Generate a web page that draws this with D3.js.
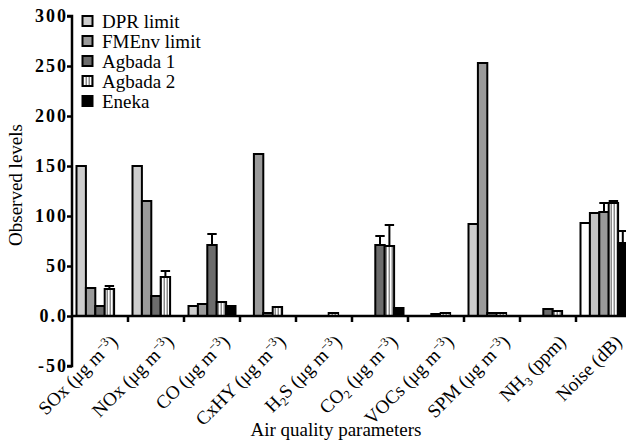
<!DOCTYPE html>
<html>
<head>
<meta charset="utf-8">
<script src="https://cdn.jsdelivr.net/npm/d3@7"></script>
<style>
  html, body { margin: 0; padding: 0; background: #fff; }
  svg { display: block; }
</style>
</head>
<body>
<svg id="chart" width="626" height="440"></svg>
<script>
// ---- data ----
const categories = ["SOx", "NOx", "CO", "CxHY", "H2S", "CO2", "VOCs", "SPM", "NH3", "Noise"];
const categoryLabels = [
  "SOx (μg m^{−3})", "NOx (μg m^{−3})", "CO (μg m^{−3})", "CxHY (μg m^{−3})",
  "H_{2}S (μg m^{−3})", "CO_{2} (μg m^{−3})", "VOCs (μg m^{−3})", "SPM (μg m^{−3})",
  "NH_{3} (ppm)", "Noise (dB)"
];
const seriesNames = ["DPR limit", "FMEnv limit", "Agbada 1", "Agbada 2", "Eneka"];
const dprLimit   = [150, 150, 10, 0, 0, 0, 0, 92, 0, 93];
const fmenvLimit = [28, 115, 12, 162, 0, 0, 0, 253, 0, 103];
const agbada1    = [10, 20, 71, 3, 0, 71, 2, 3, 7, 104];
const agbada2    = [27, 39, 14, 9, 3, 70, 3, 3, 5, 113];
const eneka      = [0, 0, 10, 0, 0, 8, 0, 0, 0, 73];
const agbada1Err = [0, 0, 11, 0, 0, 9, 0, 0, 0, 9];
const agbada2Err = [3, 6, 0, 0, 0, 21, 0, 0, 0, 2];
const enekaErr   = [0, 0, 0, 0, 0, 0, 0, 0, 0, 12];
const yTicks = [-50, 0, 50, 100, 150, 200, 250, 300];

// ---- styles ----
const FONT = '"Liberation Serif", "Times New Roman", Times, serif';
const fills = ["#cdcdcd", "#9a9a9a", "#6c6c6c", "url(#stripes)", "#000"];
const noiseFills = ["#ffffff", "#c4c4c4", "#999999", "url(#stripes)", "#000"];

const values = [dprLimit, fmenvLimit, agbada1, agbada2, eneka];
const errors = [null, null, agbada1Err, agbada2Err, enekaErr];

const svg = d3.select("#chart");
const defs = svg.append("defs");
const pat = defs.append("pattern").attr("id", "stripes")
  .attr("patternUnits", "userSpaceOnUse").attr("width", 3).attr("height", 4);
pat.append("rect").attr("width", 3).attr("height", 4).attr("fill", "#ffffff");
pat.append("rect").attr("x", 1.5).attr("width", 1.5).attr("height", 4).attr("fill", "#8a8a8a");

const x = d3.scaleBand().domain(categories).range([72, 632]);
const xs = d3.scaleBand().domain(seriesNames).range([4.5, x.bandwidth() - 4.5]);
const y = d3.scaleLinear().domain([-50, 300]).range([366, 16]);

// bars
const barData = [];
categories.forEach((c, ci) => {
  seriesNames.forEach((s, si) => {
    barData.push({ c, ci, s, si, v: values[si][ci], e: errors[si] ? errors[si][ci] : 0 });
  });
});

const bars = svg.append("g");
bars.selectAll("g.err").data(barData.filter(d => d.e > 0)).join("g").attr("class", "err")
  .each(function(d) {
    const g = d3.select(this);
    const cx = x(d.c) + xs(d.s) + xs.bandwidth() / 2;
    g.append("line").attr("x1", cx).attr("x2", cx)
      .attr("y1", y(d.v)).attr("y2", y(d.v + d.e))
      .attr("stroke", "#000").attr("stroke-width", 2);
    g.append("line").attr("x1", cx - xs.bandwidth() / 2).attr("x2", cx + xs.bandwidth() / 2)
      .attr("y1", y(d.v + d.e)).attr("y2", y(d.v + d.e))
      .attr("stroke", "#000").attr("stroke-width", 2);
  });

bars.selectAll("rect.bar").data(barData.filter(d => d.v !== 0)).join("rect").attr("class", "bar")
  .attr("x", d => x(d.c) + xs(d.s))
  .attr("width", xs.bandwidth())
  .attr("y", d => Math.min(y(d.v), y(0)))
  .attr("height", d => Math.abs(y(0) - y(d.v)))
  .attr("fill", d => d.c === "Noise" ? noiseFills[d.si] : fills[d.si])
  .attr("stroke", "#000").attr("stroke-width", 2);

// y axis
const yAxis = d3.axisLeft(y).tickValues(yTicks).tickSize(5).tickPadding(1)
  .tickFormat(d => d === 0 ? "0.0" : String(d));
const gy = svg.append("g").attr("transform", "translate(72,0)").call(yAxis);
gy.attr("font-family", null);
gy.select(".domain").attr("stroke-width", 2.5).attr("d", `M-5,${y(300)}H0V${y(-50)}H-5`);
gy.selectAll(".tick line").attr("stroke-width", 2.5);
gy.selectAll(".tick text").style("font-family", FONT).style("font-size", "18px")
  .style("font-weight", "bold").style("letter-spacing", "2px").attr("dx", 2);

// x axis
const gx = svg.append("g");
gx.append("line").attr("x1", 72).attr("x2", 632).attr("y1", y(0)).attr("y2", y(0))
  .attr("stroke", "#000").attr("stroke-width", 2.5);
gx.selectAll("line.tk").data(categories.slice(0, -1)).join("line").attr("class", "tk")
  .attr("x1", d => x(d) + x.bandwidth()).attr("x2", d => x(d) + x.bandwidth())
  .attr("y1", y(0)).attr("y2", y(0) + 6)
  .attr("stroke", "#000").attr("stroke-width", 2.5);

// x tick labels
function addRich(textSel, str) {
  const re = /(\^\{[^}]*\}|_\{[^}]*\})/g;
  const parts = str.split(re).filter(p => p.length);
  let shift = 0;
  parts.forEach(p => {
    if (p.startsWith("^{")) {
      textSel.append("tspan").style("font-size", "12px").attr("dy", -7 - shift).text(p.slice(2, -1));
      shift = -7;
    } else if (p.startsWith("_{")) {
      textSel.append("tspan").style("font-size", "12px").attr("dy", 4 - shift).text(p.slice(2, -1));
      shift = 4;
    } else {
      textSel.append("tspan").attr("dy", -shift).text(p);
      shift = 0;
    }
  });
}
const labels = svg.append("g");
categories.forEach((c, i) => {
  const ax = x(c) + x.bandwidth() / 2 + 19;
  const ay = y(0) + 27;
  const t = labels.append("text").attr("transform", `translate(${ax},${ay}) rotate(-45)`)
    .attr("text-anchor", "end").style("font-family", FONT).style("font-size", "19px");
  addRich(t, categoryLabels[i]);
});

// axis titles
svg.append("text").attr("x", 336).attr("y", 436).attr("text-anchor", "middle")
  .style("font-family", FONT).style("font-size", "19px").text("Air quality parameters");
svg.append("text").attr("transform", "translate(22,185) rotate(-90)").attr("text-anchor", "middle")
  .style("font-family", FONT).style("font-size", "19px").text("Observed levels");

// legend
const lg = svg.append("g");
seriesNames.forEach((s, i) => {
  const cy = 21 + i * 20;
  lg.append("rect").attr("x", 82.5).attr("y", cy - 5).attr("width", 10).attr("height", 10)
    .attr("fill", fills[i]).attr("stroke", "#000").attr("stroke-width", 2);
  lg.append("text").attr("x", 102).attr("y", cy + 6.5)
    .style("font-family", FONT).style("font-size", "19px").text(s);
});
</script>
</body>
</html>
